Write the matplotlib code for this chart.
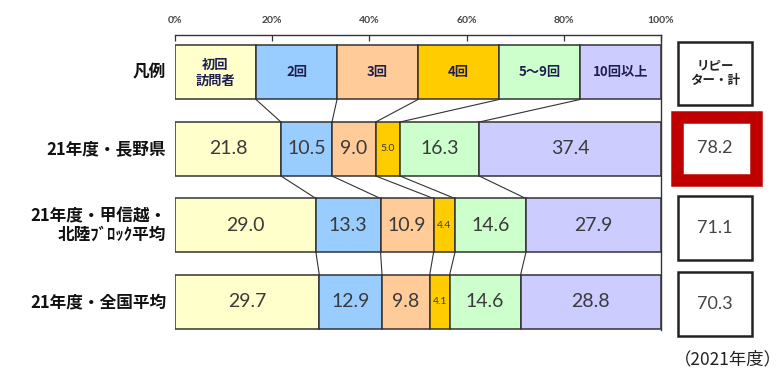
import matplotlib
matplotlib.use("Agg")
import matplotlib.pyplot as plt
from matplotlib.patches import Rectangle
import numpy as np

plt.rcParams['font.family'] = ['Noto Sans CJK JP', 'DejaVu Sans']

rows = ["凡例", "21年度・長野県", "21年度・甲信越・\n北陸ﾌﾞﾛｯｸ平均", "21年度・全国平均"]
legend_labels = ["初回\n訪問者", "2回", "3回", "4回", "5～9回", "10回以上"]
legend_values = [100/6] * 6
nagano = [21.8, 10.5, 9.0, 5.0, 16.3, 37.4]
koshinetsu = [29.0, 13.3, 10.9, 4.4, 14.6, 27.9]
zenkoku = [29.7, 12.9, 9.8, 4.1, 14.6, 28.8]
repeater_header = "リピー\nター・計"
repeater = [78.2, 71.1, 70.3]
xticks = [0, 20, 40, 60, 80, 100]
xticklabels = ["0%", "20%", "40%", "60%", "80%", "100%"]
colors = ["#FFFFCC", "#99CCFF", "#FFCC99", "#FFCC00", "#CCFFCC", "#CCCCFF"]

data_rows = [legend_values, nagano, koshinetsu, zenkoku]

W, H = 783, 371
fig = plt.figure(figsize=(W/100, H/100), dpi=100)
fig.patch.set_facecolor("white")

# main axes: x 0-100% from px 175 to 661, y from px 35 to 330
x0, x1 = 175, 661
ytop, ybot = 35, 330
ax = fig.add_axes([x0/W, 1 - ybot/H, (x1-x0)/W, (ybot-ytop)/H])
spacing = 76.5
bh = 54/spacing
ax.set_xlim(0, 100)
ax.set_ylim(3 + 28/spacing, -37.5/spacing)

numfont = ["Lato", "DejaVu Sans"]

for i, vals in enumerate(data_rows):
    left = np.concatenate([[0], np.cumsum(vals)[:-1]])
    ax.barh(i, vals, left=left, height=bh, color=colors, edgecolor="#333333", linewidth=1.1, zorder=3)
    for j, (l, v) in enumerate(zip(left, vals)):
        cx = l + v/2
        if i == 0:
            ax.text(cx, i, legend_labels[j], ha="center", va="center", fontsize=9.5,
                    color="#1F2050", fontweight="bold", linespacing=1.15, zorder=4)
        else:
            small = v < 6
            ax.text(cx, i, f"{v:.1f}", ha="center", va="center",
                    fontsize=7.5 if small else 14, color="#3a3a3a", zorder=4,
                    family=numfont, fontweight="normal")

# connector lines between consecutive rows
for i in range(len(data_rows) - 1):
    cu = np.cumsum(data_rows[i])[:-1]
    cl = np.cumsum(data_rows[i+1])[:-1]
    for a, b in zip(cu, cl):
        ax.plot([a, b], [i + bh/2, i + 1 - bh/2], color="#333333", linewidth=0.8, zorder=2)

ax.xaxis.tick_top()
ax.set_xticks(xticks)
ax.set_xticklabels(xticklabels, fontsize=7.5, color="#444444", fontweight="bold",
                   family=numfont)
ax.tick_params(axis="x", direction="in", length=4, width=0.9, color="#333333", pad=7)
ax.set_yticks([])
for s in ["left", "bottom"]:
    ax.spines[s].set_visible(False)
ax.spines["top"].set_color("#333333")
ax.spines["top"].set_linewidth(1.0)
ax.spines["right"].set_color("#333333")
ax.spines["right"].set_linewidth(1.0)
ax.set_facecolor("none")

# row labels
for i, lab in enumerate(rows):
    ax.text(-1.8, i, lab, ha="right", va="center", fontsize=12, color="#111111",
            fontweight="bold", linespacing=1.05)

# overlay for right-side boxes
ov = fig.add_axes([0, 0, 1, 1])
ov.set_xlim(0, W)
ov.set_ylim(H, 0)
ov.axis("off")
ov.patch.set_alpha(0)

ov.add_patch(Rectangle((678, 42), 74, 63, fill=False, edgecolor="#222222", linewidth=1.8))
ov.text(715, 73.5, repeater_header, ha="center", va="center", fontsize=9, color="#222222",
        fontweight="bold", linespacing=1.15)

box_y = [(110, 186), (196, 260), (272, 336)]
for k, (val, (yt, yb)) in enumerate(zip(repeater, box_y)):
    if k == 0:
        ov.add_patch(Rectangle((677, 116.5), 79, 63.5, fill=False, edgecolor="#C00000", linewidth=9))
    else:
        ov.add_patch(Rectangle((678, yt), 74, yb - yt, fill=False, edgecolor="#222222", linewidth=1.8))
    cy = (yt + yb) / 2
    ov.text(715, cy, f"{val:.1f}", ha="center", va="center", fontsize=13, color="#444444",
            family=numfont, fontweight="normal")

ov.text(782, 359, "（2021年度）", ha="right", va="center", fontsize=12.5, color="#222222")

fig.savefig("out.png", dpi=100, facecolor="white")
